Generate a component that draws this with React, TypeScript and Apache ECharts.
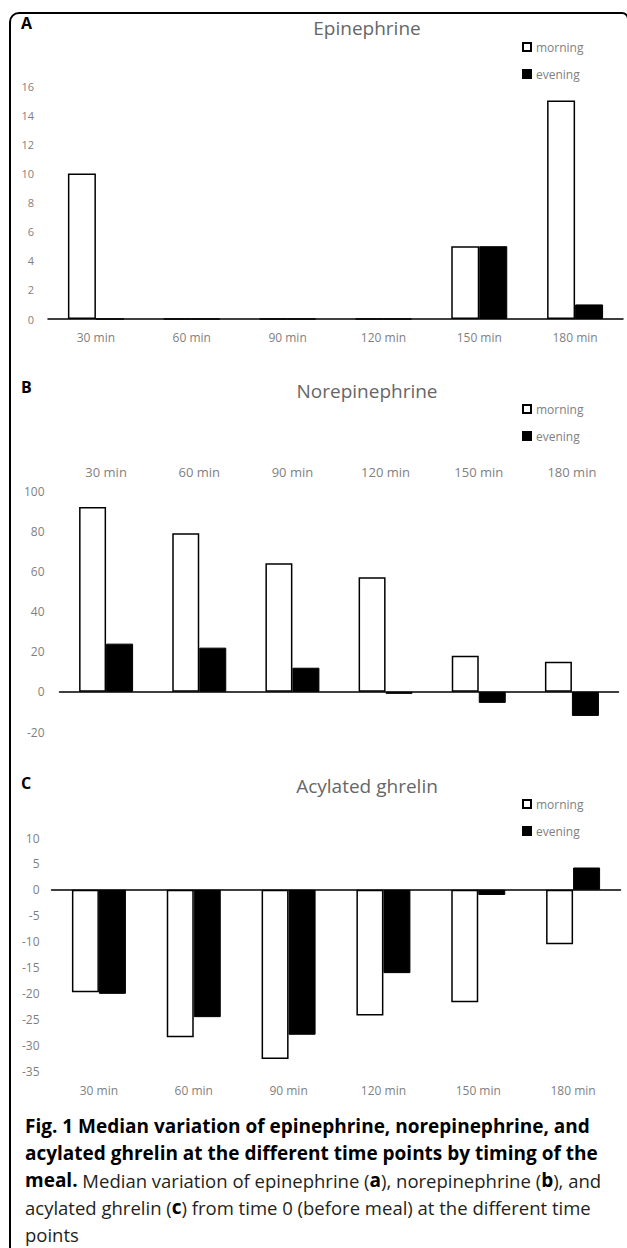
import React, { useEffect, useRef } from 'react';
import * as echarts from 'echarts';

// ---- data ----
const categories = ['30 min', '60 min', '90 min', '120 min', '150 min', '180 min'];
const seriesNames = ['morning', 'evening'];

const epiMorning = [10, 0, 0, 0, 5, 15];
const epiEvening = [0, 0, 0, 0, 5, 1];

const norMorning = [92, 79, 64, 57, 18, 15];
const norEvening = [24, 22, 12, -1, -5.5, -12];

const ghrMorning = [-19.8, -28.5, -32.7, -24.3, -21.7, -10.5];
const ghrEvening = [-20.1, -24.6, -28, -16.1, -1, 4.3];

const epiAxis = [0, 16, 2];
const norAxis = [-20, 100, 20];
const ghrAxis = [-35, 10, 5];

const panelTitles = ['Epinephrine', 'Norepinephrine', 'Acylated ghrelin'];
const panelLetters = ['A', 'B', 'C'];

const captionLines = [
  '{b|Fig. 1 Median variation of epinephrine, norepinephrine, and}',
  '{b|acylated ghrelin at the different time points by timing of the}',
  '{b|meal.} Median variation of epinephrine ({b|a}), norepinephrine ({b|b}), and',
  'acylated ghrelin ({b|c}) from time 0 (before meal) at the different time',
  'points',
];

// ---- layout ----
const layouts = [
  { left: 48, width: 575, top: 86, height: 233, barWidth: 28, labelPos: 'bottom', labelMargin: 12, xFont: 12, yFont: 11, yMargin: 14, titleY: 28, letterY: 23, legendTop: 41 },
  { left: 59.5, width: 559, top: 491, height: 241, barWidth: 27, labelPos: 'top', labelMargin: 13, xFont: 13, yFont: 12, yMargin: 15, titleY: 391, letterY: 387, legendTop: 403 },
  { left: 51.5, width: 569, top: 838, height: 233, barWidth: 27, labelPos: 'bottom', labelMargin: 13, xFont: 12, yFont: 12, yMargin: 12, titleY: 786, letterY: 783, legendTop: 798 },
];

const FONT = '"Open Sans", "Noto Sans", sans-serif';
const LABEL_COLOR = '#7f7f7f';

export default function App() {
  const ref = useRef<HTMLDivElement>(null);

  useEffect(() => {
    if (!ref.current) return;
    const chart = echarts.init(ref.current, undefined, { renderer: 'svg' });

    const panelData = [
      [epiMorning, epiEvening, epiAxis],
      [norMorning, norEvening, norAxis],
      [ghrMorning, ghrEvening, ghrAxis],
    ] as const;

    const grid: any[] = [];
    const xAxis: any[] = [];
    const yAxis: any[] = [];
    const series: any[] = [];
    const legend: any[] = [];
    const graphic: any[] = [];

    // frame
    graphic.push({
      type: 'rect',
      shape: { x: 10, y: 13, width: 618, height: 1300, r: [9, 6, 0, 0] },
      style: { fill: 'none', stroke: '#000', lineWidth: 2 },
      z: 0,
    });

    panelData.forEach(([morning, evening, ax], i) => {
      const L = layouts[i];
      grid.push({ left: L.left, width: L.width, top: L.top, height: L.height, containLabel: false });
      // zero line axis
      xAxis.push({
        gridIndex: i,
        type: 'category',
        data: categories,
        position: 'bottom',
        axisLine: { show: true, onZero: true, lineStyle: { color: '#000', width: 1.5 } },
        axisTick: { show: false },
        axisLabel: { show: false },
        splitLine: { show: false },
        z: 5,
      });
      // label axis
      xAxis.push({
        gridIndex: i,
        type: 'category',
        data: categories,
        position: L.labelPos,
        axisLine: { show: false, onZero: false },
        axisTick: { show: false },
        axisLabel: { show: true, margin: L.labelMargin, fontSize: L.xFont, color: LABEL_COLOR, fontFamily: FONT },
        splitLine: { show: false },
      });
      yAxis.push({
        gridIndex: i,
        type: 'value',
        min: ax[0],
        max: ax[1],
        interval: ax[2],
        axisLine: { show: false },
        axisTick: { show: false },
        splitLine: { show: false },
        axisLabel: { fontSize: L.yFont, color: LABEL_COLOR, fontFamily: FONT, margin: L.yMargin },
      });
      series.push({
        name: seriesNames[0],
        type: 'bar',
        xAxisIndex: i * 2,
        yAxisIndex: i,
        data: morning,
        barWidth: L.barWidth,
        barGap: '0%',
        itemStyle: { color: '#ffffff', borderColor: '#000000', borderWidth: 1.5 },
      });
      series.push({
        name: seriesNames[1],
        type: 'bar',
        xAxisIndex: i * 2,
        yAxisIndex: i,
        data: evening,
        barWidth: L.barWidth,
        barGap: '0%',
        itemStyle: { color: '#000000', borderColor: '#000000', borderWidth: 1 },
      });
      legend.push({
        data: seriesNames,
        left: 522,
        top: L.legendTop,
        orient: 'vertical',
        icon: 'rect',
        itemWidth: 8,
        itemHeight: 8,
        itemGap: 15,
        itemTextGap: 3,
        padding: 0,
        selectedMode: false,
        textStyle: { fontSize: 12, color: LABEL_COLOR, fontFamily: FONT },
      });
      graphic.push({
        type: 'text',
        x: 367,
        y: L.titleY,
        style: {
          text: panelTitles[i],
          font: `19px ${FONT}`,
          fill: '#666666',
          align: 'center',
          verticalAlign: 'middle',
        },
      });
      graphic.push({
        type: 'text',
        x: 21,
        y: L.letterY,
        style: {
          text: panelLetters[i],
          font: `bold 16px ${FONT}`,
          fill: '#000',
          align: 'left',
          verticalAlign: 'middle',
        },
      });
    });

    captionLines.forEach((line, k) => {
      graphic.push({
        type: 'text',
        x: 25,
        y: 1126 + k * 27,
        style: {
          text: line,
          font: `18.5px ${FONT}`,
          fill: '#231f20',
          align: 'left',
          verticalAlign: 'middle',
          rich: {
            b: { fontWeight: 'bold', fontSize: 19, fontFamily: FONT, fill: '#000' },
          },
        },
      });
    });

    chart.setOption({
      animation: false,
      backgroundColor: '#ffffff',
      grid,
      xAxis,
      yAxis,
      series,
      legend,
      graphic,
      textStyle: { fontFamily: FONT },
    });

    return () => chart.dispose();
  }, []);

  return (
    <div
      ref={ref}
      style={{ position: 'absolute', left: 0, top: 0, width: 627, height: 1248 }}
    />
  );
}
